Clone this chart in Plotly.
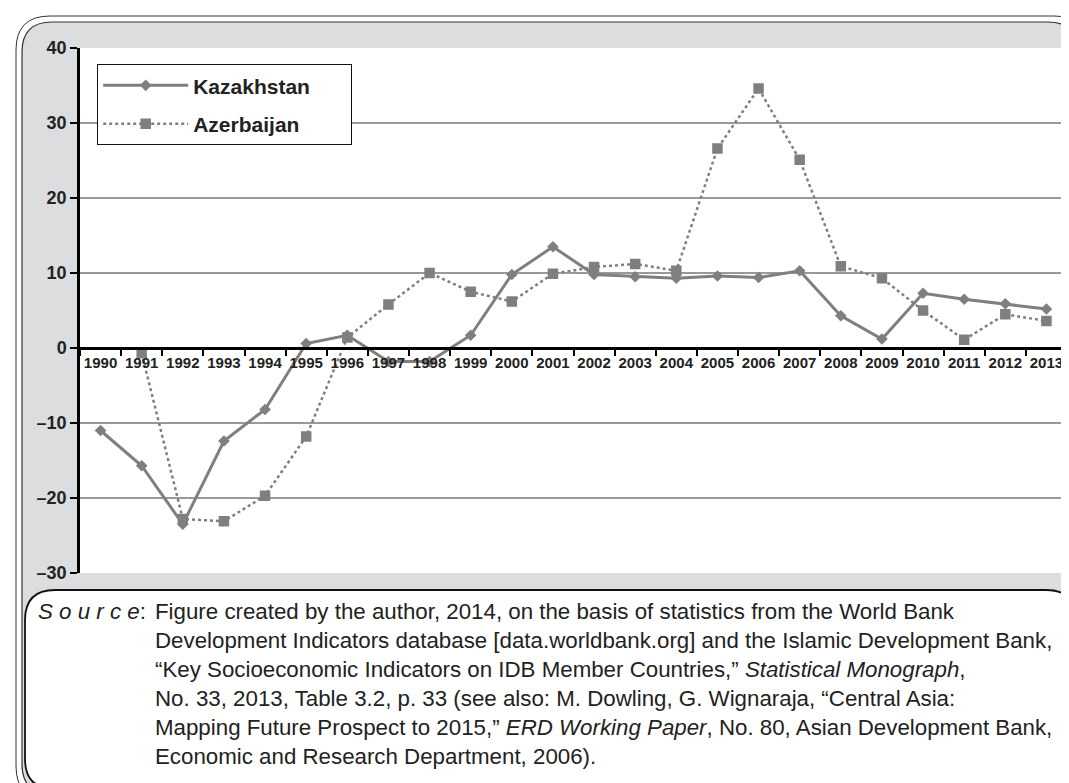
import plotly.graph_objects as go

years = [str(y) for y in range(1990, 2014)]
kazakhstan = [-11.0, -15.7, -23.5, -12.4, -8.2, 0.6, 1.7, -1.8, -1.8, 1.7, 9.8, 13.5,
              9.8, 9.5, 9.3, 9.6, 9.4, 10.3, 4.3, 1.2, 7.3, 6.5, 5.9, 5.2]
azerbaijan = [None, -0.7, -22.8, -23.1, -19.7, -11.8, 1.4, 5.8, 10.0, 7.5, 6.2, 9.9,
              10.8, 11.2, 10.3, 26.6, 34.6, 25.1, 10.9, 9.3, 5.0, 1.1, 4.5, 3.6]
y_ticks = [-30, -20, -10, 0, 10, 20, 30, 40]
y_labels = ["\u201330", "\u201320", "\u201310", "0", "10", "20", "30", "40"]

W, H = 1069, 783
L, R, T, B = 72, 1059, 40, 565


def px(X):
    return (X - L) / (R - L)


def py(Y):
    return (B - Y) / (B - T)


def rrect(x0, y0, x1, y1, r):
    rx = r / (R - L)
    ry = r / (B - T)
    a, b, c, d = px(x0), py(y0), px(x1), py(y1)
    return (f"M{a+rx},{b} L{c-rx},{b} Q{c},{b} {c},{b-ry} L{c},{d+ry} "
            f"Q{c},{d} {c-rx},{d} L{a+rx},{d} Q{a},{d} {a},{d+ry} "
            f"L{a},{b-ry} Q{a},{b} {a+rx},{b} Z")


grey = "#7f7f7f"
pad = "\u00a0" * 6
fig = go.Figure()
fig.add_trace(go.Scatter(
    x=years, y=kazakhstan, name="Kazakhstan" + pad, mode="lines+markers",
    line=dict(color=grey, width=3),
    marker=dict(symbol="diamond", size=9, color=grey),
    legendgroup="k"))
fig.add_trace(go.Scatter(
    x=years, y=azerbaijan, name="Azerbaijan" + pad, mode="lines+markers",
    line=dict(color=grey, width=2.5, dash="dot"),
    marker=dict(symbol="square", size=10.5, color=grey),
    legendgroup="a"))

shapes = [
    dict(type="path", xref="paper", yref="paper", path=rrect(8, 8, 1080, 792, 34),
         line=dict(color="#333", width=1), fillcolor="white", layer="below"),
    dict(type="path", xref="paper", yref="paper", path=rrect(14, 14, 1070, 786, 30),
         line=dict(color="#333", width=1.2), fillcolor="#dcdddf", layer="below"),
    dict(type="rect", xref="paper", yref="paper", x0=0, x1=1, y0=0, y1=1,
         line=dict(width=0), fillcolor="white", layer="below"),
    dict(type="path", xref="paper", yref="paper", path=rrect(17, 582, 1068, 781, 30),
         line=dict(color="#111", width=1.8), fillcolor="white", layer="below"),
]

src_text = ("Figure created by the author, 2014, on the basis of statistics from the World Bank<br>"
            "Development Indicators database [data.worldbank.org] and the Islamic Development Bank,<br>"
            "\u201cKey Socioeconomic Indicators on IDB Member Countries,\u201d <i>Statistical Monograph</i>,<br>"
            "No. 33, 2013, Table 3.2, p. 33 (see also: M. Dowling, G. Wignaraja, \u201cCentral Asia:<br>"
            "Mapping Future Prospect to 2015,\u201d <i>ERD Working Paper</i>, No. 80, Asian Development Bank,<br>"
            "Economic and Research Department, 2006).")

src_font = dict(family="Liberation Sans, Arial, sans-serif", size=22.3, color="#222")
annotations = [
    dict(xref="paper", yref="paper", x=px(28), y=py(589), xanchor="left", yanchor="top",
         text="<i>S o u r c e</i>:", showarrow=False, align="left", font=src_font),
    dict(xref="paper", yref="paper", x=px(145), y=py(589), xanchor="left", yanchor="top",
         text=src_text, showarrow=False, align="left", font=src_font),
]

fig.update_layout(
    width=W, height=H,
    margin=dict(l=L, r=W - R, t=T, b=H - B, pad=0),
    paper_bgcolor="white", plot_bgcolor="white",
    showlegend=True,
    legend=dict(x=px(89), y=py(56), xanchor="left", yanchor="top",
                bgcolor="white", bordercolor="#111", borderwidth=1.2,
                font=dict(family="Liberation Sans, Arial, sans-serif", size=21, color="#222",
                          weight="bold"),
                traceorder="grouped", tracegroupgap=8, itemwidth=85),
    shapes=shapes, annotations=annotations,
    xaxis=dict(type="category", range=[-0.5, 23.5], anchor="free", position=30 / 70,
               showline=True, linecolor="black", linewidth=2.5,
               ticks="outside", tickson="boundaries", ticklen=6, tickwidth=2, tickcolor="black",
               showgrid=False, zeroline=False, tickangle=0,
               tickfont=dict(family="Liberation Sans, Arial, sans-serif",
                             size=15, color="#222", weight="bold")),
    yaxis=dict(range=[-30, 40], tickvals=y_ticks, ticktext=y_labels,
               showline=True, linecolor="black", linewidth=2.5,
               ticks="outside", ticklen=7, tickwidth=2, tickcolor="black",
               showgrid=True, gridcolor="#999", gridwidth=1.5, zeroline=False,
               tickfont=dict(family="Liberation Sans, Arial, sans-serif", size=18, color="#222",
                             weight="bold")),
)

fig.write_html("out.html")
